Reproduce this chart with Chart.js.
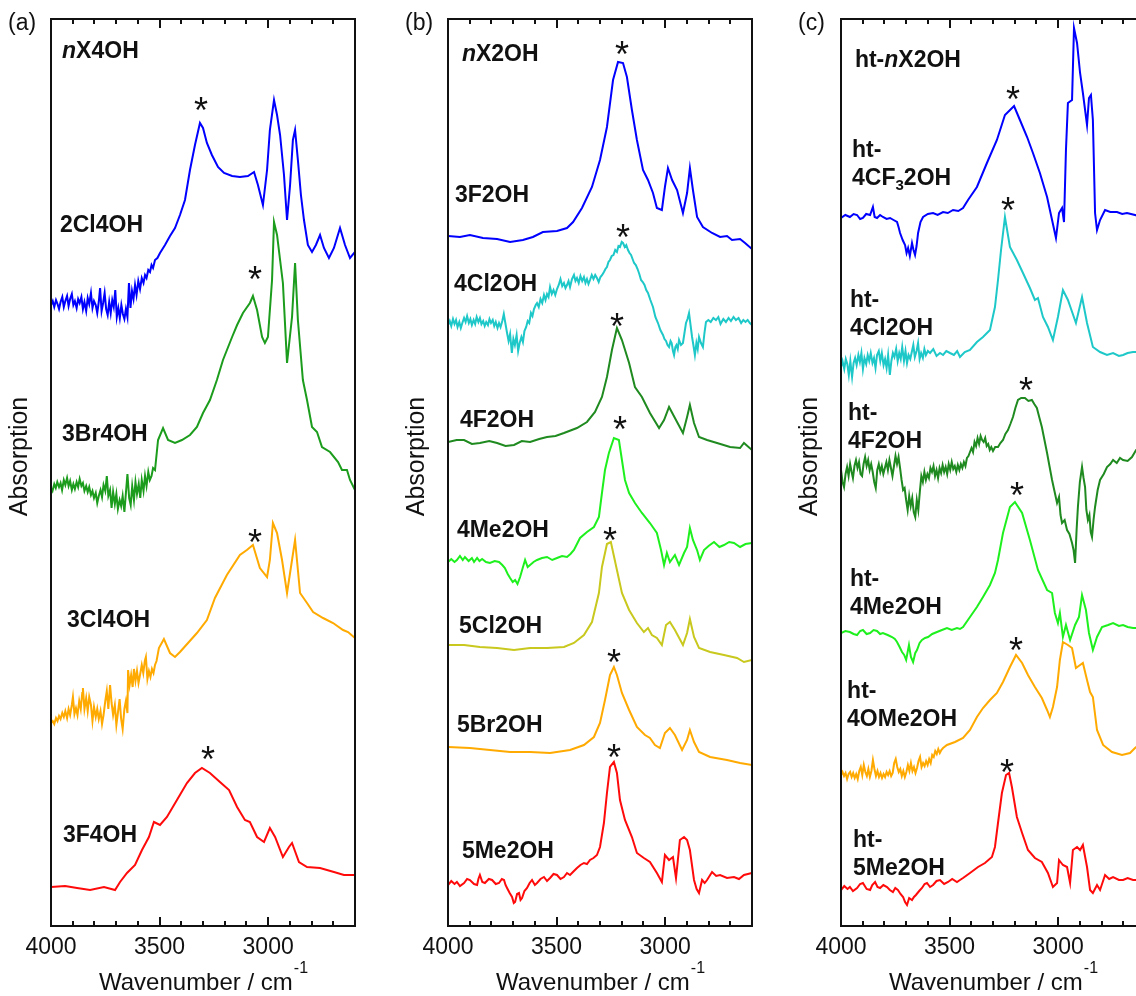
<!DOCTYPE html>
<html>
<head>
<meta charset="utf-8">
<script src="https://cdn.jsdelivr.net/npm/chart.js@4.4.1/dist/chart.umd.min.js"></script>
<style>
  html, body { margin: 0; padding: 0; background: #fff; overflow: hidden; }
  #wrap { position: relative; width: 1136px; height: 996px; overflow: hidden; }
  .panel { position: absolute; top: 0; width: 395px; height: 996px; }
</style>
</head>
<body>
<div id="wrap">
  <div class="panel" style="left:0"><canvas id="panelA" width="395" height="996"></canvas></div>
  <div class="panel" style="left:397px"><canvas id="panelB" width="395" height="996"></canvas></div>
  <div class="panel" style="left:790px"><canvas id="panelC" width="395" height="996"></canvas></div>
</div>
<script>
const FONT = '"Liberation Sans", Arial, Helvetica, sans-serif';
const INK = '#111';

const wnMin = 2600, wnMax = 4000;
const majorTicks = [4000, 3500, 3000];

// ---- (a) nX4OH : [wavenumber, absorbance above own baseline] ----
const s2Cl4OH = [[4000,0],[3992,4],[3985,-2],[3977,5],[3970,1],[3963,-4],[3956,3],[3948,8],[3941,-2],[3934,4],[3926,9],[3919,-1],[3912,6],[3904,11],[3897,0],[3890,4],[3882,-3],[3875,6],[3868,2],[3860,8],[3853,-4],[3846,3],[3838,-6],[3831,7],[3824,1],[3816,12],[3809,-3],[3802,4],[3794,0],[3787,-8],[3780,3],[3774,17],[3767,-6],[3760,2],[3753,12],[3746,-4],[3739,-10],[3732,3],[3725,-8],[3718,5],[3711,-2],[3704,15],[3697,-12],[3690,-3],[3683,-13],[3676,0],[3669,-9],[3662,-14],[3655,-4],[3648,-12],[3641,22],[3634,-3],[3627,14],[3620,6],[3613,20],[3606,10],[3598,24],[3590,16],[3582,27],[3574,22],[3567,30],[3560,27],[3552,35],[3544,33],[3537,40],[3530,37],[3521,45],[3510,47],[3498,52],[3475,60],[3452,69],[3429,77],[3406,90],[3383,105],[3360,135],[3337,160],[3314,182],[3300,177],[3282,162],[3259,150],[3231,138],[3203,132],[3166,129],[3130,128],[3093,129],[3065,133],[3047,120],[3024,100],[3005,135],[2992,175],[2973,205],[2959,190],[2945,170],[2927,130],[2913,85],[2899,120],[2886,165],[2876,175],[2863,145],[2849,110],[2835,85],[2817,60],[2798,53],[2780,60],[2761,70],[2743,57],[2720,47],[2697,57],[2669,77],[2646,60],[2623,47],[2600,53]];
const s3Br4OH = [[4000,0],[3993,-3],[3985,4],[3978,0],[3971,6],[3963,1],[3956,5],[3949,-2],[3941,8],[3934,3],[3926,10],[3919,2],[3912,7],[3904,-2],[3897,4],[3890,-1],[3882,6],[3875,1],[3868,9],[3860,2],[3853,5],[3846,-3],[3838,2],[3831,-4],[3824,1],[3816,-7],[3809,-3],[3802,-10],[3794,-5],[3787,-15],[3780,-8],[3772,-2],[3765,-9],[3758,3],[3750,-3],[3743,12],[3736,-8],[3728,-2],[3721,-20],[3714,-4],[3706,-16],[3699,-6],[3692,-21],[3684,-12],[3677,-18],[3670,-8],[3662,-24],[3655,-5],[3648,14],[3640,-10],[3633,-17],[3626,2],[3618,-12],[3611,6],[3604,-6],[3596,4],[3589,-10],[3582,8],[3574,-3],[3567,12],[3560,2],[3552,16],[3545,8],[3537,12],[3530,20],[3521,18],[3507,48],[3484,60],[3461,48],[3429,45],[3397,48],[3360,53],[3328,61],[3300,75],[3268,88],[3236,108],[3208,128],[3166,151],[3143,163],[3116,175],[3084,185],[3070,192],[3051,178],[3028,151],[3015,145],[3001,151],[2982,208],[2973,266],[2959,253],[2945,228],[2932,205],[2913,125],[2890,171],[2876,225],[2863,168],[2840,108],[2821,88],[2798,61],[2775,56],[2752,41],[2715,36],[2678,26],[2660,18],[2637,18],[2623,8],[2600,-2]];
const s3Cl4OH = [[4000,0],[3992,2],[3985,-1],[3977,5],[3970,2],[3963,7],[3956,4],[3948,10],[3941,6],[3934,12],[3926,5],[3919,14],[3912,8],[3904,18],[3899,26],[3892,9],[3885,15],[3878,8],[3870,22],[3863,14],[3856,30],[3853,35],[3846,14],[3838,25],[3831,12],[3824,26],[3816,18],[3809,2],[3802,16],[3794,6],[3787,14],[3780,4],[3772,12],[3765,-1],[3758,8],[3750,22],[3743,32],[3736,14],[3728,38],[3721,20],[3714,8],[3706,18],[3699,-2],[3692,10],[3684,24],[3677,4],[3670,-6],[3662,14],[3655,22],[3648,10],[3645,53],[3638,38],[3631,48],[3624,36],[3618,54],[3611,42],[3604,52],[3597,40],[3590,48],[3582,58],[3575,50],[3568,62],[3563,66],[3556,44],[3549,52],[3542,46],[3535,54],[3528,50],[3521,58],[3514,62],[3503,75],[3480,84],[3452,70],[3429,66],[3406,71],[3369,80],[3328,90],[3282,103],[3245,125],[3190,148],[3130,168],[3098,173],[3070,178],[3038,155],[3005,146],[2992,163],[2978,200],[2959,190],[2936,163],[2913,130],[2890,163],[2876,183],[2853,130],[2821,120],[2793,111],[2747,105],[2701,100],[2655,93],[2632,91],[2600,85]];
const s3F4OH = [[4000,0],[3935,1],[3880,-1],[3820,-3],[3756,0],[3705,-3],[3682,5],[3650,14],[3613,22],[3581,37],[3549,50],[3526,65],[3498,62],[3466,70],[3420,87],[3374,104],[3337,114],[3305,119],[3268,114],[3222,105],[3180,97],[3143,80],[3107,67],[3084,65],[3051,50],[3019,45],[2992,59],[2968,50],[2932,30],[2904,40],[2890,44],[2858,25],[2821,20],[2761,19],[2697,15],[2651,12],[2600,12]];

// ---- (b) nX2OH ----
const s3F2OH = [[4000,0],[3945,-1],[3899,1],[3839,-2],[3774,-3],[3714,-6],[3655,-4],[3609,-1],[3563,4],[3498,5],[3452,8],[3424,14],[3383,28],[3337,49],[3300,76],[3268,109],[3240,156],[3217,174],[3194,173],[3176,159],[3153,126],[3130,96],[3102,66],[3079,56],[3056,43],[3038,28],[3015,26],[3001,49],[2987,68],[2968,56],[2945,46],[2918,23],[2899,43],[2886,68],[2872,46],[2853,19],[2826,9],[2784,3],[2747,-1],[2715,0],[2692,-4],[2655,-3],[2632,-7],[2600,-13]];
const s4Cl2OH = [[4000,0],[3992,4],[3985,-1],[3977,6],[3970,1],[3963,5],[3956,-2],[3948,3],[3941,-3],[3934,2],[3926,7],[3919,3],[3912,9],[3904,2],[3897,6],[3890,0],[3882,5],[3875,1],[3868,8],[3860,3],[3853,7],[3846,1],[3838,4],[3831,-1],[3824,3],[3816,0],[3809,6],[3802,2],[3794,5],[3787,-1],[3780,3],[3772,-3],[3765,2],[3758,-2],[3750,4],[3743,11],[3736,2],[3728,-8],[3721,-16],[3714,-9],[3706,-28],[3699,-14],[3692,-20],[3684,-10],[3677,-26],[3670,-18],[3662,-12],[3655,-17],[3648,-6],[3640,-2],[3633,4],[3626,2],[3618,12],[3611,9],[3604,16],[3596,20],[3590,22],[3582,18],[3574,26],[3566,22],[3558,30],[3551,25],[3544,31],[3537,28],[3530,38],[3522,31],[3514,35],[3506,30],[3498,36],[3490,40],[3482,46],[3474,39],[3466,42],[3459,37],[3452,40],[3445,44],[3438,38],[3429,46],[3420,50],[3413,44],[3406,47],[3398,42],[3390,49],[3382,44],[3374,48],[3367,42],[3360,46],[3353,41],[3346,45],[3338,50],[3330,46],[3322,50],[3314,47],[3306,43],[3298,48],[3290,50],[3282,53],[3275,56],[3268,58],[3261,63],[3254,65],[3246,69],[3238,70],[3230,75],[3222,73],[3215,79],[3208,78],[3200,83],[3194,82],[3186,78],[3179,80],[3171,75],[3164,72],[3157,70],[3150,66],[3143,62],[3135,60],[3127,56],[3119,51],[3111,45],[3103,43],[3095,40],[3087,35],[3079,32],[3068,25],[3056,18],[3045,8],[3033,2],[3022,-5],[3010,-10],[3003,-14],[2996,-16],[2989,-20],[2982,-22],[2975,-16],[2970,-18],[2964,-26],[2959,-30],[2953,-22],[2948,-20],[2942,-24],[2936,-15],[2927,-20],[2918,-18],[2911,-8],[2904,2],[2897,6],[2890,12],[2883,0],[2876,-12],[2870,-20],[2863,-30],[2856,-18],[2850,-24],[2844,-12],[2835,-18],[2826,-22],[2819,-8],[2812,3],[2801,5],[2790,3],[2778,7],[2766,5],[2755,8],[2745,1],[2732,6],[2720,3],[2708,7],[2697,4],[2685,8],[2674,5],[2662,7],[2650,2],[2640,5],[2630,3],[2620,5],[2610,2],[2600,0]];
const s4F2OH = [[4000,0],[3960,2],[3926,2],[3890,-2],[3853,-1],[3810,1],[3774,-1],[3735,-4],[3696,-3],[3660,1],[3622,0],[3580,3],[3544,5],[3505,6],[3466,9],[3406,14],[3360,20],[3323,30],[3291,45],[3268,65],[3245,92],[3222,114],[3199,102],[3166,79],[3139,55],[3107,45],[3070,29],[3028,14],[3005,22],[2982,35],[2955,24],[2918,9],[2899,25],[2886,37],[2867,19],[2844,5],[2807,2],[2761,-1],[2701,-5],[2655,-6],[2637,-1],[2600,-8]];
const s4Me2OH = [[4000,0],[3985,3],[3970,0],[3959,2],[3945,6],[3932,2],[3922,5],[3905,1],[3890,4],[3880,0],[3866,4],[3855,1],[3843,3],[3825,0],[3807,-1],[3785,1],[3765,0],[3750,-3],[3738,-6],[3725,-12],[3714,-16],[3702,-20],[3691,-18],[3680,-22],[3668,-15],[3656,-6],[3645,2],[3633,-5],[3622,-3],[3606,0],[3590,2],[3567,4],[3544,5],[3520,2],[3498,4],[3475,6],[3452,5],[3436,8],[3420,12],[3392,24],[3360,30],[3328,35],[3305,45],[3291,69],[3277,92],[3259,109],[3236,124],[3213,122],[3199,102],[3185,82],[3166,69],[3139,59],[3107,49],[3070,39],[3038,29],[3019,12],[3005,-3],[2992,9],[2978,0],[2955,7],[2936,-3],[2913,9],[2899,15],[2886,34],[2872,22],[2853,12],[2840,2],[2821,12],[2800,16],[2775,20],[2750,15],[2729,17],[2705,20],[2683,19],[2655,15],[2630,18],[2600,19]];
const s5Cl2OH = [[4000,0],[3926,0],[3853,-2],[3774,-3],[3696,-5],[3622,-3],[3544,-3],[3466,-2],[3420,2],[3374,10],[3337,23],[3305,52],[3291,78],[3268,101],[3250,103],[3222,75],[3199,52],[3166,35],[3130,22],[3098,13],[3079,17],[3061,10],[3038,7],[3015,0],[2996,20],[2978,23],[2955,15],[2918,0],[2899,12],[2886,26],[2867,8],[2844,-3],[2793,-7],[2729,-10],[2669,-13],[2637,-17],[2600,-15]];
const s5Br2OH = [[4000,0],[3899,-1],[3807,-3],[3714,-5],[3622,-5],[3530,-6],[3438,-3],[3374,2],[3328,10],[3300,24],[3277,47],[3254,72],[3236,80],[3222,72],[3199,54],[3166,37],[3130,20],[3093,12],[3070,9],[3047,2],[3024,-1],[3001,14],[2978,19],[2955,12],[2922,-3],[2899,7],[2886,17],[2867,5],[2844,-5],[2793,-10],[2715,-13],[2655,-16],[2600,-18]];
const s5Me2OH = [[4000,0],[3985,4],[3970,1],[3959,3],[3945,-1],[3926,2],[3912,6],[3899,5],[3880,1],[3866,0],[3860,6],[3853,10],[3842,3],[3830,2],[3812,6],[3797,5],[3780,1],[3765,2],[3752,6],[3742,5],[3735,0],[3728,-3],[3716,-8],[3705,-12],[3697,-18],[3691,-17],[3682,-9],[3673,-8],[3666,-15],[3659,-13],[3648,-6],[3636,-3],[3624,2],[3613,5],[3600,0],[3590,2],[3574,6],[3558,8],[3544,4],[3530,7],[3514,11],[3498,10],[3482,6],[3466,8],[3452,12],[3438,10],[3420,14],[3406,17],[3390,20],[3374,22],[3360,21],[3346,25],[3330,27],[3314,30],[3300,38],[3282,62],[3268,92],[3254,118],[3236,123],[3222,112],[3208,85],[3185,65],[3153,48],[3130,32],[3098,27],[3070,23],[3038,12],[3015,3],[3001,30],[2982,25],[2964,28],[2950,7],[2932,45],[2913,48],[2899,45],[2886,35],[2867,5],[2855,-4],[2844,-8],[2830,5],[2818,2],[2807,5],[2784,13],[2765,9],[2747,10],[2715,7],[2683,8],[2660,6],[2637,10],[2600,12]];

// ---- (c) ht-nX2OH ----
const sHt4CF32OH = [[4000,0],[3980,3],[3959,1],[3942,4],[3926,3],[3912,-1],[3899,0],[3884,4],[3866,3],[3853,11],[3845,1],[3834,0],[3820,3],[3807,1],[3790,-1],[3774,0],[3758,-2],[3742,-4],[3735,-9],[3728,-15],[3716,-22],[3705,-27],[3698,-35],[3691,-30],[3683,-38],[3673,-25],[3666,-32],[3659,-37],[3652,-28],[3645,-15],[3634,-4],[3622,1],[3600,4],[3576,5],[3555,3],[3530,6],[3508,5],[3484,8],[3460,7],[3438,10],[3415,18],[3374,31],[3328,55],[3282,78],[3245,103],[3203,112],[3176,98],[3143,81],[3116,65],[3084,45],[3051,21],[3028,-2],[3010,-20],[2996,5],[2982,10],[2973,-4],[2964,68],[2955,115],[2936,118],[2927,190],[2913,175],[2899,145],[2886,125],[2867,93],[2858,120],[2849,123],[2840,98],[2830,5],[2821,-12],[2807,-2],[2784,8],[2760,6],[2729,6],[2705,4],[2683,5],[2646,3],[2600,0]];
const sHt4Cl2OH = [[4000,0],[3993,6],[3985,-2],[3978,8],[3971,3],[3964,-8],[3957,6],[3949,-10],[3942,4],[3935,9],[3928,2],[3920,12],[3913,5],[3906,14],[3899,-2],[3892,9],[3884,3],[3877,12],[3870,6],[3863,14],[3855,4],[3848,9],[3841,-1],[3834,12],[3826,16],[3819,6],[3812,14],[3804,2],[3797,8],[3790,-1],[3783,12],[3775,-8],[3768,6],[3761,14],[3754,10],[3746,18],[3739,6],[3732,14],[3725,8],[3718,20],[3710,6],[3703,16],[3696,4],[3689,12],[3681,8],[3674,15],[3667,22],[3660,10],[3652,16],[3645,24],[3638,8],[3631,14],[3623,9],[3616,18],[3609,12],[3600,16],[3590,14],[3575,18],[3560,11],[3544,14],[3530,12],[3515,16],[3498,14],[3480,12],[3465,16],[3452,10],[3430,15],[3406,17],[3374,25],[3346,30],[3314,37],[3291,60],[3277,87],[3263,117],[3245,150],[3222,120],[3190,107],[3162,94],[3130,79],[3107,67],[3093,69],[3070,50],[3047,40],[3024,27],[3001,50],[2978,77],[2955,67],[2918,44],[2890,70],[2867,44],[2840,20],[2807,15],[2775,12],[2747,14],[2720,11],[2701,12],[2680,14],[2655,15],[2600,15]];
const sHt4F2OH = [[4000,0],[3993,-12],[3986,-17],[3979,-4],[3972,3],[3965,-6],[3958,6],[3951,-2],[3945,-8],[3938,4],[3931,10],[3924,2],[3917,8],[3910,-4],[3903,-6],[3896,6],[3889,13],[3882,4],[3875,10],[3868,0],[3861,6],[3854,-2],[3847,-12],[3840,-18],[3833,0],[3826,6],[3819,-2],[3812,4],[3805,-4],[3798,2],[3791,8],[3784,0],[3777,10],[3770,2],[3763,-6],[3756,4],[3749,14],[3742,6],[3735,13],[3728,2],[3721,-10],[3714,-20],[3707,-18],[3700,-30],[3693,-40],[3686,-26],[3679,-36],[3672,-28],[3665,-42],[3658,-47],[3651,-30],[3644,-40],[3637,-22],[3630,-6],[3623,-12],[3616,-2],[3609,-10],[3602,-4],[3595,-8],[3588,2],[3581,-2],[3574,4],[3567,-6],[3560,0],[3553,-8],[3546,2],[3539,-3],[3532,5],[3525,-2],[3518,3],[3511,-4],[3504,6],[3497,0],[3490,8],[3483,1],[3476,4],[3469,-2],[3462,5],[3455,0],[3448,6],[3441,2],[3434,8],[3427,4],[3420,12],[3413,14],[3406,18],[3399,22],[3392,18],[3385,28],[3378,24],[3371,32],[3364,26],[3357,34],[3350,30],[3343,28],[3336,32],[3329,24],[3322,26],[3315,20],[3308,23],[3300,19],[3290,23],[3277,23],[3266,27],[3254,30],[3243,36],[3231,40],[3220,46],[3208,53],[3197,62],[3185,70],[3170,72],[3153,72],[3137,69],[3121,70],[3110,66],[3098,62],[3086,52],[3075,43],[3063,30],[3051,17],[3040,4],[3028,-10],[3016,-22],[3005,-33],[2996,-27],[2989,-45],[2982,-53],[2970,-50],[2959,-60],[2948,-64],[2936,-73],[2929,-80],[2922,-93],[2915,-60],[2909,-37],[2900,-12],[2890,3],[2883,-8],[2876,-17],[2870,-40],[2863,-50],[2856,-45],[2850,-62],[2844,-67],[2837,-50],[2830,-37],[2818,-20],[2807,-10],[2790,-4],[2775,3],[2760,6],[2747,10],[2730,7],[2715,12],[2701,10],[2680,9],[2660,13],[2641,20],[2620,22],[2600,25]];
const sHt4Me2OH = [[4000,0],[3980,2],[3959,1],[3942,-1],[3926,-2],[3912,2],[3899,3],[3882,-1],[3866,0],[3850,3],[3834,2],[3820,-1],[3807,0],[3785,-2],[3765,-4],[3752,-6],[3742,-9],[3730,-14],[3719,-19],[3709,-22],[3700,-27],[3687,-12],[3678,-24],[3668,-29],[3658,-20],[3650,-17],[3638,-10],[3627,-7],[3613,-5],[3599,-4],[3580,-1],[3558,1],[3535,3],[3512,5],[3490,3],[3466,5],[3452,4],[3438,6],[3406,16],[3374,26],[3346,36],[3314,48],[3291,60],[3277,73],[3254,100],[3222,126],[3199,131],[3166,120],[3130,93],[3093,63],[3051,43],[3028,40],[3015,20],[3001,10],[2992,20],[2978,-4],[2964,8],[2945,-7],[2922,8],[2904,16],[2890,38],[2872,23],[2858,0],[2840,-17],[2821,-4],[2798,6],[2770,8],[2747,10],[2720,7],[2701,8],[2680,6],[2655,5],[2600,5]];
const sHt4OMe2OH = [[4000,0],[3993,3],[3986,-1],[3979,2],[3972,-4],[3965,1],[3958,3],[3951,-2],[3944,2],[3937,-3],[3930,1],[3923,-4],[3916,4],[3909,8],[3902,0],[3895,10],[3888,3],[3881,-1],[3874,6],[3867,-2],[3860,4],[3853,15],[3846,6],[3839,-1],[3832,4],[3825,-2],[3818,2],[3811,-3],[3804,1],[3797,-2],[3790,3],[3783,0],[3776,4],[3769,-1],[3762,2],[3755,12],[3748,16],[3741,8],[3734,3],[3727,6],[3720,-1],[3713,4],[3706,-2],[3699,3],[3692,10],[3685,4],[3678,12],[3671,4],[3664,8],[3657,2],[3650,7],[3643,14],[3636,18],[3629,8],[3622,12],[3615,9],[3608,14],[3601,10],[3594,16],[3587,12],[3580,20],[3573,18],[3566,24],[3559,21],[3552,26],[3545,22],[3538,25],[3530,27],[3512,30],[3475,33],[3438,37],[3406,45],[3374,58],[3346,67],[3314,75],[3282,82],[3254,93],[3222,108],[3194,120],[3166,112],[3139,100],[3107,88],[3075,77],[3051,65],[3038,58],[3024,68],[3005,88],[2992,115],[2978,133],[2955,130],[2936,127],[2918,107],[2899,110],[2886,112],[2867,95],[2853,83],[2840,78],[2821,45],[2793,30],[2752,23],[2706,20],[2669,22],[2646,27],[2600,35]];
const sHt5Me2OH = [[4000,0],[3985,4],[3970,1],[3959,3],[3945,-1],[3926,2],[3912,6],[3899,7],[3882,1],[3866,0],[3856,5],[3843,8],[3832,3],[3820,2],[3805,5],[3788,3],[3775,0],[3761,-2],[3750,2],[3738,0],[3726,-4],[3714,-7],[3705,-12],[3696,-15],[3686,-8],[3673,-10],[3664,-7],[3655,-5],[3640,-1],[3627,2],[3615,6],[3604,7],[3590,3],[3576,5],[3560,9],[3544,10],[3525,6],[3507,8],[3488,11],[3466,8],[3452,10],[3438,12],[3406,17],[3369,23],[3337,27],[3305,33],[3291,43],[3277,67],[3259,97],[3240,115],[3226,117],[3213,103],[3190,73],[3166,57],[3139,40],[3107,32],[3075,28],[3047,17],[3024,3],[3005,7],[2996,30],[2978,25],[2959,23],[2945,7],[2932,40],[2913,43],[2899,40],[2886,45],[2867,23],[2853,0],[2840,-3],[2821,5],[2807,0],[2784,15],[2765,11],[2747,13],[2720,10],[2701,10],[2680,12],[2655,10],[2600,10]];

// stacking offsets (top trace first)
const offsetsA = [621, 438, 203, 39];
const offsetsB = [690, 601, 484, 364, 281, 179, 41];
const offsetsC = [708, 559, 456, 293, 151, 36];

const BLUE = '#0000ff', RED = '#ff0a0a', ORANGE = '#ffaa00', CYAN = '#1ec8c8';
const GREEN = '#1c9c1c', DKGREEN = '#1f8a1f', LIME = '#1ef01e', OLIVE = '#c8c81e';

const panels = [
  {
    id: 'panelA', letter: '(a)',
    spectra: [s2Cl4OH, s3Br4OH, s3Cl4OH, s3F4OH],
    offsets: offsetsA,
    colours: [BLUE, GREEN, ORANGE, RED],
    labels: [['{i:n}X4OH', 3949, 874], ['2Cl4OH', 3959, 700], ['3Br4OH', 3949, 491], ['3Cl4OH', 3926, 305], ['3F4OH', 3945, 90]],
    stars: [[3309, 823], [3061, 654], [3061, 391], [3277, 174]]
  },
  {
    id: 'panelB', letter: '(b)',
    spectra: [s3F2OH, s4Cl2OH, s4F2OH, s4Me2OH, s5Cl2OH, s5Br2OH, s5Me2OH],
    offsets: offsetsB,
    colours: [BLUE, CYAN, DKGREEN, LIME, OLIVE, ORANGE, RED],
    labels: [['{i:n}X2OH', 3936, 871], ['3F2OH', 3968, 730], ['4Cl2OH', 3972, 641], ['4F2OH', 3945, 505], ['4Me2OH', 3959, 395], ['5Cl2OH', 3949, 299], ['5Br2OH', 3959, 200], ['5Me2OH', 3936, 74]],
    stars: [[3199, 879], [3194, 696], [3222, 607], [3208, 504], [3254, 393], [3236, 271], [3236, 176]]
  },
  {
    id: 'panelC', letter: '(c)',
    spectra: [sHt4CF32OH, sHt4Cl2OH, sHt4F2OH, sHt4Me2OH, sHt4OMe2OH, sHt5Me2OH],
    offsets: offsetsC,
    colours: [BLUE, CYAN, DKGREEN, LIME, ORANGE, RED],
    labels: [['ht-{i:n}X2OH', 3936, 865], ['ht-\n4CF{s:3}2OH', 3949, 775], ['ht-\n4Cl2OH', 3959, 625], ['ht-\n4F2OH', 3968, 512], ['ht-\n4Me2OH', 3959, 346], ['ht-\n4OMe2OH', 3972, 234], ['ht-\n5Me2OH', 3945, 85]],
    stars: [[3208, 834], [3231, 723], [3148, 543], [3190, 438], [3194, 283], [3236, 161]]
  }
];

// bold label text with {i:..} italic and {s:..} subscript runs
function drawRich(ctx, text, x, y, size) {
  const parts = [];
  const re = /\{(i|s):([^}]*)\}/g;
  let last = 0, m;
  while ((m = re.exec(text))) {
    if (m.index > last) parts.push({ t: text.slice(last, m.index) });
    parts.push({ t: m[2], kind: m[1] });
    last = re.lastIndex;
  }
  if (last < text.length) parts.push({ t: text.slice(last) });
  for (const p of parts) {
    let fs = size, dy = 0, style = 'bold';
    if (p.kind === 'i') style = 'italic bold';
    if (p.kind === 's') { fs = Math.round(size * 0.64); dy = size * 0.3; }
    ctx.font = `${style} ${fs}px ${FONT}`;
    ctx.fillText(p.t, x, y + dy);
    x += ctx.measureText(p.t).width;
  }
}

const decor = {
  id: 'decor',
  afterDraw(chart, args, opts) {
    const { ctx, chartArea: { left, right, top, bottom } } = chart;
    const xs = chart.scales.x, ys = chart.scales.y;
    ctx.save();
    ctx.strokeStyle = INK;
    ctx.fillStyle = INK;
    ctx.lineWidth = 2;

    // inward ticks on bottom and top edges
    ctx.beginPath();
    for (let wn = wnMin + 100; wn < wnMax; wn += 100) {
      const px = Math.round(xs.getPixelForValue(wn));
      const len = wn % 500 === 0 ? 9 : 5;
      ctx.moveTo(px, bottom); ctx.lineTo(px, bottom - len);
      ctx.moveTo(px, top); ctx.lineTo(px, top + len);
    }
    ctx.stroke();
    ctx.strokeRect(left, top, right - left, bottom - top);

    // panel letter
    ctx.textAlign = 'left';
    ctx.textBaseline = 'middle';
    ctx.font = `23px ${FONT}`;
    ctx.fillText(opts.letter, 8, top + 5);

    // y axis title
    ctx.save();
    ctx.translate(20, (top + bottom) / 2 - 16);
    ctx.rotate(-Math.PI / 2);
    ctx.textAlign = 'center';
    ctx.font = `25px ${FONT}`;
    ctx.fillText('Absorption', 0, 0);
    ctx.restore();

    // compound labels
    for (const [text, wn, yv] of opts.labels) {
      const x = xs.getPixelForValue(wn);
      let y = ys.getPixelForValue(yv);
      for (const line of text.split('\n')) {
        drawRich(ctx, line, x, y, 23);
        y += 28;
      }
    }

    // peak markers
    ctx.textAlign = 'center';
    ctx.textBaseline = 'alphabetic';
    ctx.font = `36px ${FONT}`;
    for (const [wn, yv] of opts.stars) {
      ctx.fillText('*', xs.getPixelForValue(wn), ys.getPixelForValue(yv) + 20);
    }

    // x axis title with superscript
    const main = 'Wavenumber / cm', sup = '-1';
    ctx.textAlign = 'left';
    ctx.textBaseline = 'middle';
    ctx.font = `24px ${FONT}`;
    const w1 = ctx.measureText(main).width;
    ctx.font = `16px ${FONT}`;
    const w2 = ctx.measureText(sup).width;
    const x0 = (left + right) / 2 - (w1 + w2) / 2;
    ctx.font = `24px ${FONT}`;
    ctx.fillText(main, x0, bottom + 57);
    ctx.font = `16px ${FONT}`;
    ctx.fillText(sup, x0 + w1 + 1, bottom + 43);
    ctx.restore();
  }
};

for (const p of panels) {
  const datasets = p.spectra.map((s, i) => ({
    data: s.map(([wn, a]) => ({ x: wn, y: a + p.offsets[i] })),
    borderColor: p.colours[i],
    borderWidth: 2,
    pointRadius: 0,
    tension: 0,
    fill: false
  }));
  new Chart(document.getElementById(p.id), {
    type: 'line',
    data: { datasets },
    plugins: [decor],
    options: {
      responsive: false,
      animation: false,
      events: [],
      layout: { padding: { top: 19, right: 40, left: 0, bottom: 0 } },
      plugins: {
        legend: { display: false },
        tooltip: { enabled: false },
        decor: { letter: p.letter, labels: p.labels, stars: p.stars }
      },
      scales: {
        x: {
          type: 'linear',
          reverse: true,
          min: wnMin,
          max: wnMax,
          grid: { display: false, drawTicks: false },
          border: { display: false },
          afterBuildTicks: s => { s.ticks = majorTicks.map(v => ({ value: v })); },
          afterFit: s => { s.height = 70; },
          ticks: {
            autoSkip: false,
            maxRotation: 0,
            padding: 8,
            color: INK,
            font: { family: FONT, size: 23 },
            callback: v => String(v)
          }
        },
        y: {
          type: 'linear',
          min: 0,
          max: 907,
          grid: { display: false, drawTicks: false },
          border: { display: false },
          ticks: { display: false },
          afterFit: s => { s.width = 51; }
        }
      }
    }
  });
}
</script>
</body>
</html>
